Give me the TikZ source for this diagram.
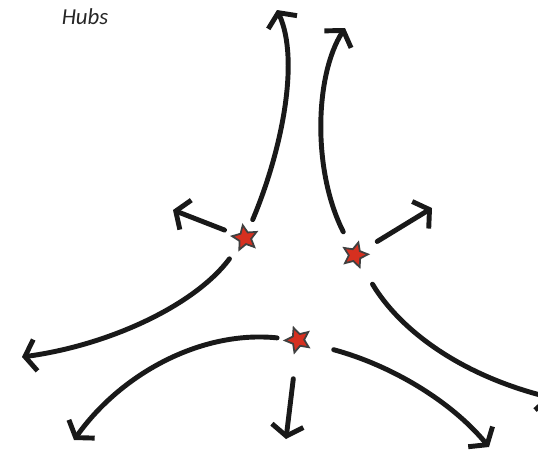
\documentclass[tikz,border=0pt]{standalone}
\usepackage{fontspec}
\setmainfont{Carlito}
\usetikzlibrary{arrows.meta}
\usetikzlibrary{shapes.geometric}
\definecolor{rougehub}{RGB}{214,48,32}

\begin{document}
\begin{tikzpicture}[x=0.02cm, y=-0.02cm,
    fleche/.style={line width=2.8pt, black!90, line cap=round, -{Straight Barb[length=6pt,width=18pt,line width=2.8pt]}},
    hub/.style={star, star points=5, star point ratio=2.1, minimum size=0.52cm, inner sep=0pt, fill=rougehub, draw=black!75, line width=1pt}]
    % cadre
    \useasboundingbox (0,0) rectangle (538,450);
    \node[font=\itshape\fontsize{13}{15}\selectfont, text=black!85] (titre) at (85,17) {Hubs};
    % les trois hubs
    \node[hub, rotate=10] (hA) at (245,238) {};
    \node[hub, rotate=-15] (hB) at (355,255) {};
    \node[hub, rotate=20] (hC) at (298,340) {};
    % bouts des fleches
    \coordinate (a1) at (277,10);
    \coordinate (a2) at (345,28);
    \coordinate (a3) at (173,210);
    \coordinate (a4) at (432,208);
    \coordinate (a5) at (22,357);
    \coordinate (a6) at (552,398);
    \coordinate (a7) at (74,440);
    \coordinate (a8) at (286,439);
    \coordinate (a9) at (489,447);
    % hub de gauche
    \draw[fleche, shorten <=0.4cm] (hA.center) .. controls (282,150) and (300,60) .. (a1);
    \draw[fleche, shorten <=0.44cm] (hA.center) -- (a3);
    \draw[fleche, shorten <=0.52cm] (hA.center) .. controls (195,305) and (110,345) .. (a5);
    % hub de droite
    \draw[fleche, shorten <=0.52cm] (hB.center) .. controls (312,170) and (315,75) .. (a2);
    \draw[fleche, shorten <=0.52cm] (hB.center) -- (a4);
    \draw[fleche, shorten <=0.68cm] (hB.center) .. controls (400,330) and (460,375) .. (a6);
    % hub du bas
    \draw[fleche, shorten <=0.42cm] (hC.center) .. controls (200,330) and (120,375) .. (a7);
    \draw[fleche, shorten <=0.78cm] (hC.center) -- (a8);
    \draw[fleche, shorten <=0.74cm] (hC.center) .. controls (390,365) and (450,400) .. (a9);
\end{tikzpicture}
\end{document}
